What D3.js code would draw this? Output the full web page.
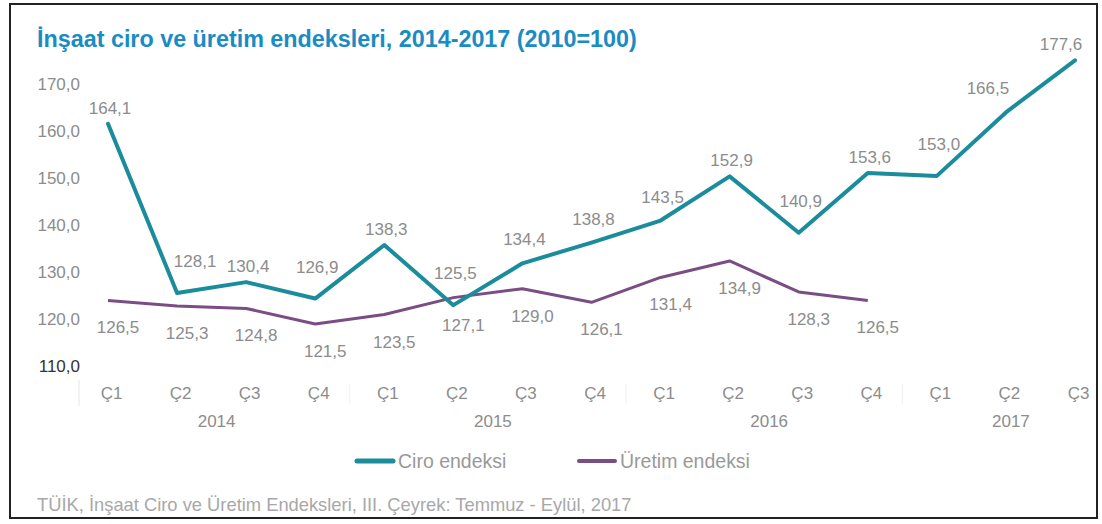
<!DOCTYPE html>
<html><head><meta charset="utf-8">
<script src="https://cdn.jsdelivr.net/npm/d3@7"></script>
<style>html,body{margin:0;padding:0;background:#fff;}svg{display:block;font-family:"Liberation Sans",Arial,sans-serif;}</style>
</head><body><svg id="c" width="1102" height="524"></svg>
<script>
const quarters = ["Ç1","Ç2","Ç3","Ç4","Ç1","Ç2","Ç3","Ç4","Ç1","Ç2","Ç3","Ç4","Ç1","Ç2","Ç3"];
const years = ["2014","2014","2014","2014","2015","2015","2015","2015","2016","2016","2016","2016","2017","2017","2017"];
const ciro = [164.1,128.1,130.4,126.9,138.3,125.5,134.4,138.8,143.5,152.9,140.9,153.6,153.0,166.5,177.6];
const uretim = [126.5,125.3,124.8,121.5,123.5,127.1,129.0,126.1,131.4,134.9,128.3,126.5];
const yTicks = [110,120,130,140,150,160,170];
const title = "İnşaat ciro ve üretim endeksleri, 2014-2017 (2010=100)";
const source = "TÜİK, İnşaat Ciro ve Üretim Endeksleri, III. Çeyrek: Temmuz - Eylül, 2017";
const seriesNames = ["Ciro endeksi","Üretim endeksi"];

const svg = d3.select("#c");
const teal = "#1b8c9b", purple = "#7a4d84", gray = "#8c8c8c";
const FF = "Liberation Sans, Arial, sans-serif";
const fmt = v => d3.format(".1f")(v).replace(".", ",");
function fit(t, w, base){ t.attr("font-size", base); const cw = t.node().getComputedTextLength(); t.attr("font-size", base*w/cw); }

// frame
svg.append("rect").attr("x",10).attr("y",4).attr("width",1087).attr("height",514)
  .attr("fill","none").attr("stroke","#222").attr("stroke-width",2);

const tt = svg.append("text").attr("x",37).attr("y",47).attr("fill","#1a8cc4")
  .attr("font-weight","bold").text(title);
fit(tt, 600, 20);

const idx = d3.range(quarters.length);
const x = d3.scalePoint().domain(idx).range([108,1075]);
const y = d3.scaleLinear().domain([110,170]).range([378,96]);

// y axis
const yAxis = d3.axisLeft(y).tickValues(yTicks).tickFormat(fmt).tickSize(0).tickPadding(0);
const ga = svg.append("g").attr("transform","translate(80,0)").call(yAxis);
ga.select(".domain").remove();
ga.selectAll("text").attr("font-size",17).attr("fill",(d)=>d===110?"#333":gray)
  .attr("font-family",FF).attr("dy","-0.4em");

// faint separators
svg.append("line").attr("x1",79).attr("x2",79).attr("y1",380).attr("y2",406).attr("stroke","#e6e6e6");
const yearGroups = d3.groups(idx, i=>years[i]);
yearGroups.slice(1).forEach(([yr, is])=>{
  const xs = (x(is[0]) + x(is[0]-1))/2;
  svg.append("line").attr("x1",xs).attr("x2",xs).attr("y1",384).attr("y2",404).attr("stroke","#f0f0f0");
});

// x axis labels
const xAxis = d3.axisBottom(x).tickFormat(i=>quarters[i]).tickSize(0).tickPadding(0);
const gx = svg.append("g").attr("transform","translate(3,386)").call(xAxis);
gx.select(".domain").remove();
gx.selectAll("text").attr("font-size",17).attr("fill",gray).attr("font-family",FF).attr("dy","0.75em");
svg.append("g").selectAll("text").data(yearGroups).join("text")
  .attr("x",([yr,is])=>d3.mean(is,i=>x(i))+5).attr("y",427).attr("text-anchor","middle")
  .attr("font-size",17).attr("fill",gray).text(([yr])=>yr);

// lines
const line = d3.line().x((d,i)=>x(i)).y(d=>y(d)).curve(d3.curveLinear);
svg.append("path").datum(uretim).attr("d",line).attr("fill","none").attr("stroke",purple)
  .attr("stroke-width",3).attr("stroke-linejoin","round");
svg.append("path").datum(ciro).attr("d",line).attr("fill","none").attr("stroke",teal)
  .attr("stroke-width",4).attr("stroke-linejoin","round").attr("stroke-linecap","round");

// labels
const ciroDy = (d,i)=>{
  const p = ciro[i-1], n = ciro[i+1];
  if (p===undefined || n===undefined || (d>p && d>n)) return -16;
  if (d<p && d<n) return -32;
  return -24;
};
const ciroDx = (d,i)=>{
  if (i===13) return -18;
  if (i===14) return -14;
  if (i===1) return 18;
  return 2;
};
svg.append("g").selectAll("text").data(ciro).join("text")
  .attr("x",(d,i)=>x(i)+ciroDx(d,i)).attr("y",(d,i)=>y(d)+ciroDy(d,i)+6)
  .attr("text-anchor","middle").attr("font-size",17).attr("fill",gray).text(fmt);
svg.append("g").selectAll("text").data(uretim).join("text")
  .attr("x",(d,i)=>x(i)+10).attr("y",(d,i)=>y(d)+33)
  .attr("text-anchor","middle").attr("font-size",17).attr("fill",gray).text(fmt);

// legend
const lg = svg.append("g");
const lgt = [];
[[teal,357,398],[purple,579,620]].forEach(([c,x0,tx],k)=>{
  lg.append("line").attr("x1",x0).attr("x2",x0+36).attr("y1",461).attr("y2",461)
    .attr("stroke",c).attr("stroke-width",k?4:5).attr("stroke-linecap","round");
  lgt.push(lg.append("text").attr("x",tx).attr("y",468).attr("fill","#999").text(seriesNames[k]));
});
fit(lgt[1], 130, 18);
lgt[0].attr("font-size", lgt[1].attr("font-size"));

const st = svg.append("text").attr("x",37).attr("y",511).attr("fill","#a8a8a8").text(source);
fit(st, 595, 16);
</script></body></html>
